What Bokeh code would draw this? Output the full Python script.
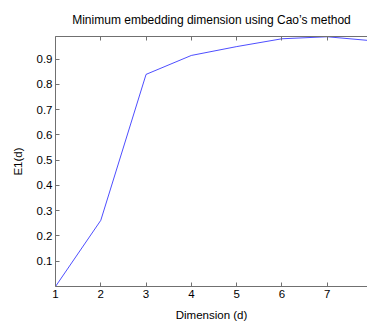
from bokeh.plotting import figure
from bokeh.models import LinearAxis, FixedTicker, Range1d, Title
from bokeh.embed import file_html
from bokeh.resources import INLINE

dimension = [1, 2, 3, 4, 5, 6, 7, 8]
e1 = [0.0, 0.262, 0.840, 0.915, 0.950, 0.981, 0.989, 0.973]
x_ticks = [1, 2, 3, 4, 5, 6, 7]
y_ticks = [0.1, 0.2, 0.3, 0.4, 0.5, 0.6, 0.7, 0.8, 0.9]

FONT = "Liberation Sans"
AX = "#707070"

p = figure(width=367, height=323, output_backend="svg", toolbar_location=None,
           x_range=Range1d(1, 7.89), y_range=Range1d(0, 0.99),
           x_axis_location=None, y_axis_location=None,
           min_border_left=55, min_border_right=0, min_border_top=36, min_border_bottom=37)
p.frame_width = 312
p.frame_height = 250
p.outline_line_color = None
p.grid.visible = False
p.background_fill_color = "white"
p.border_fill_color = "white"

def style(ax, labels=True):
    ax.axis_line_color = AX
    ax.major_tick_line_color = AX
    ax.major_tick_in = 4
    ax.major_tick_out = 0
    ax.minor_tick_line_color = None
    ax.major_label_text_font = FONT
    ax.major_label_text_font_size = "11.5px"
    ax.major_label_text_color = "black"
    ax.major_label_standoff = 3
    ax.axis_label_text_font = FONT
    ax.axis_label_text_font_size = "11.5px"
    ax.axis_label_text_font_style = "normal"
    ax.axis_label_text_color = "black"
    if not labels:
        ax.major_label_text_font_size = "0px"
        ax.major_label_text_color = None

xb = LinearAxis(ticker=FixedTicker(ticks=x_ticks), axis_label="Dimension (d)")
style(xb)
xb.axis_label_standoff = 8
p.add_layout(xb, "below")

xt = LinearAxis(ticker=FixedTicker(ticks=x_ticks))
style(xt, labels=False)
p.add_layout(xt, "above")

yl = LinearAxis(ticker=FixedTicker(ticks=y_ticks), axis_label="E1(d)")
style(yl)
yl.axis_label_standoff = 10
p.add_layout(yl, "left")

p.title = Title(text="Minimum embedding dimension using Cao\u2019s method",
                text_font=FONT, text_font_size="12px", text_font_style="normal",
                align="center", text_color="black", standoff=20)

p.line(dimension, e1, line_color="#0000ff", line_width=0.7)

open("out.html", "w").write(file_html(p, INLINE))
